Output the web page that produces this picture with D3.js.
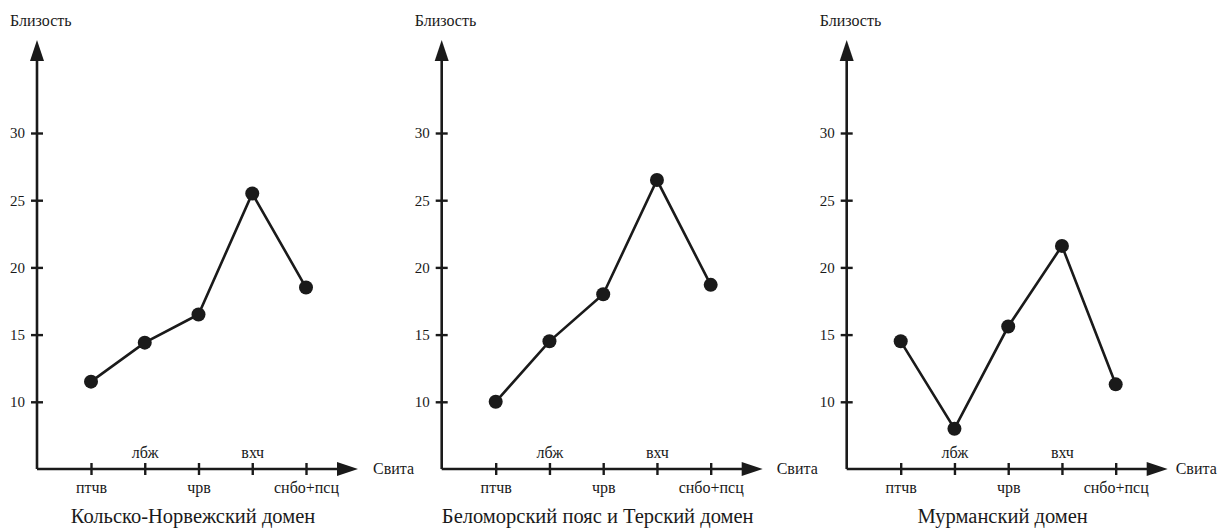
<!DOCTYPE html>
<html>
<head>
<meta charset="utf-8">
<script src="https://cdn.jsdelivr.net/npm/d3@7"></script>
<style>
  html, body { margin: 0; padding: 0; background: #fff; }
  svg text { font-family: "Liberation Serif", "Times New Roman", "DejaVu Serif", serif; fill: #1a1a1a; }
</style>
</head>
<body>
<svg id="chart" width="1221" height="528"></svg>
<script>
// Data
const suites = ['птчв', 'лбж', 'чрв', 'вхч', 'снбо+псц'];
const yTicks = [10, 15, 20, 25, 30];
const kolaValues = [11.5, 14.4, 16.5, 25.5, 18.5];
const belomorValues = [10.0, 14.5, 18.0, 26.5, 18.7];
const murmanValues = [14.5, 8.0, 15.6, 21.6, 11.3];
const panelTitles = ['Кольско-Норвежский домен', 'Беломорский пояс и Терский домен', 'Мурманский домен'];
const yLabel = 'Близость';
const xLabel = 'Свита';

const svg = d3.select('#chart');
const ink = '#1a1a1a';
const serif = '"Liberation Serif", "Times New Roman", serif';

// y scale shared: axis baseline sits at 5
const y = d3.scaleLinear().domain([5, 30]).range([469, 133]);
const axisY = y(5);
const arrowTop = 40;

const panels = [
    { x0: 37, values: kolaValues, title: panelTitles[0], labelDx: 336 },
    { x0: 441.7, values: belomorValues, title: panelTitles[1], labelDx: 335 },
    { x0: 846.7, values: murmanValues, title: panelTitles[2], labelDx: 329 }
];

panels.forEach(p => drawPanel(p));

function drawPanel(p) {
    const g = svg.append('g').attr('transform', `translate(${p.x0},0)`);
    const x = d3.scalePoint().domain(suites).range([54, 269]);
    const xEnd = 321;

    // y axis line + arrow
    g.append('line')
        .attr('x1', 0).attr('x2', 0)
        .attr('y1', axisY).attr('y2', arrowTop + 12)
        .attr('stroke', ink).attr('stroke-width', 2.6);
    g.append('path')
        .attr('d', `M0,${arrowTop} L-7,${arrowTop + 21} L7,${arrowTop + 21} Z`)
        .attr('fill', ink);

    // x axis line + arrow
    g.append('line')
        .attr('x1', 0).attr('x2', xEnd - 12)
        .attr('y1', axisY).attr('y2', axisY)
        .attr('stroke', ink).attr('stroke-width', 2.6);
    g.append('path')
        .attr('d', `M${xEnd},${axisY} L${xEnd - 21},${axisY - 7} L${xEnd - 21},${axisY + 7} Z`)
        .attr('fill', ink);

    // y ticks
    const yAxis = g.append('g')
        .attr('font-family', serif)
        .call(d3.axisLeft(y).tickValues(yTicks).tickSize(6).tickPadding(6).tickFormat(d3.format('d')));
    yAxis.select('.domain').remove();
    yAxis.selectAll('.tick line').attr('x1', -6).attr('x2', 6).attr('stroke', ink).attr('stroke-width', 2.4);
    yAxis.selectAll('.tick text')
        .style('font-size', '15px')
        .attr('fill', ink);

    // x ticks, labels alternate below / above the axis
    const xAxis = g.append('g')
        .attr('font-family', serif)
        .attr('transform', `translate(0,${axisY})`)
        .call(d3.axisBottom(x).tickSize(6));
    xAxis.select('.domain').remove();
    xAxis.selectAll('.tick line').attr('y1', -6).attr('y2', 6).attr('stroke', ink).attr('stroke-width', 2.4);
    xAxis.selectAll('.tick text')
        .style('font-size', '16px')
        .attr('fill', ink)
        .attr('dy', null)
        .attr('y', (d, i) => i % 2 === 0 ? 24 : -11);

    // axis labels
    g.append('text')
        .attr('x', -27).attr('y', 26)
        .style('font-size', '16px')
        .text(yLabel);
    g.append('text')
        .attr('x', p.labelDx).attr('y', axisY + 5)
        .style('font-size', '16px')
        .text(xLabel);

    // line and points
    const line = d3.line()
        .x((d, i) => x(suites[i]))
        .y(d => y(d));
    g.append('path')
        .datum(p.values)
        .attr('d', line)
        .attr('fill', 'none')
        .attr('stroke', ink)
        .attr('stroke-width', 2.6);
    g.selectAll('circle')
        .data(p.values)
        .enter()
        .append('circle')
        .attr('cx', (d, i) => x(suites[i]))
        .attr('cy', d => y(d))
        .attr('r', 7)
        .attr('fill', ink);

    // panel title
    g.append('text')
        .attr('x', 156).attr('y', 523)
        .attr('text-anchor', 'middle')
        .style('font-size', '20.5px')
        .text(p.title);
}
</script>
</body>
</html>
